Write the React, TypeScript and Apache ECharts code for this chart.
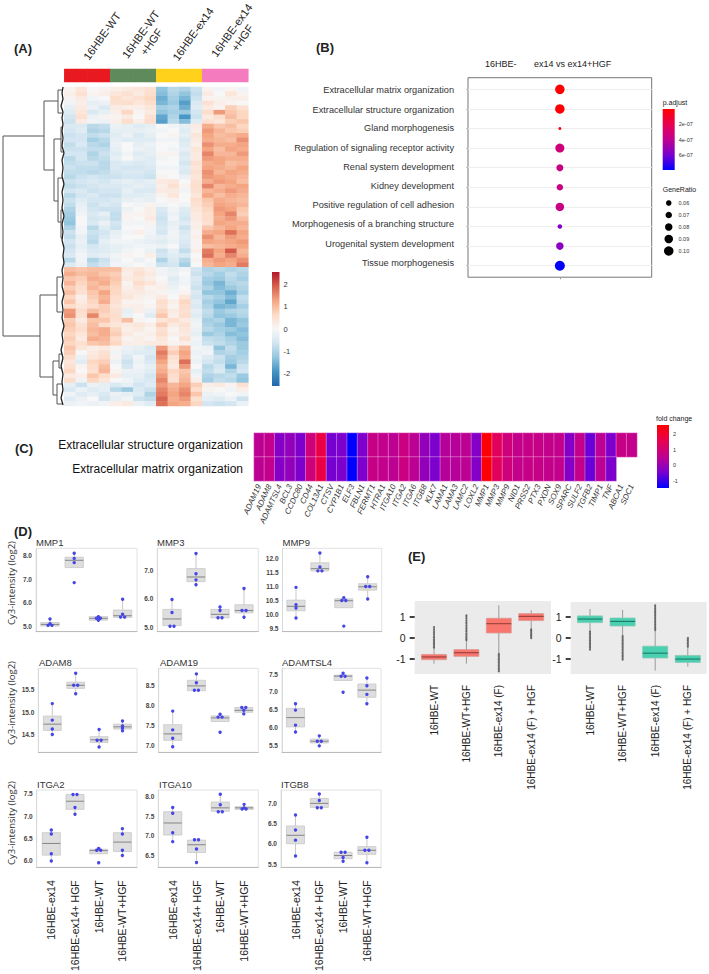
import React, { useEffect, useRef } from 'react';
import * as echarts from 'echarts';

const FONT = '"Liberation Sans"';

// ---------- Panel A ----------
const HEAT_GROUPS = ['16HBE-WT', '16HBE-WT\n+HGF', '16HBE-ex14', '16HBE-ex14\n+HGF'];
const HEAT_SAMPLE_GROUP = [0, 0, 0, 0, 1, 1, 1, 1, 2, 2, 2, 2, 3, 3, 3, 3];
const HEAT_TICKS = [2, 1, 0, -1, -2];
// values x10, one row per gene block
const HEAT_ROWS = [
  [1, 4, 0, 1, 2, 3, 4, 5, -13, -9, -10, -7, 1, -1, 1, -1],
  [2, 5, 1, 2, 4, 5, 3, 6, -14, -10, -13, -8, 3, 0, 4, 1],
  [1, 3, -1, 0, 6, 4, 5, 7, -16, -11, -15, -7, 1, 1, 2, 2],
  [-1, 2, -3, -2, 5, 6, 4, 6, -15, -12, -18, -5, 5, 2, 1, 0],
  [-3, 3, -2, -5, 3, 2, 2, 4, -11, -10, -16, -4, 3, 1, 8, 5],
  [-4, 4, -5, -3, 2, 7, 1, 3, -13, -11, -12, -6, 6, 14, 9, 7],
  [-6, 5, -2, 1, 1, 3, 0, 5, -17, -10, -19, -7, 3, 6, 10, 7],
  [-7, 3, -1, -2, 2, 6, 2, 6, -18, -9, -14, -4, 5, 4, 8, 9],
  [-5, -5, -9, -8, -2, -3, -4, -3, 0, -1, -3, 3, 12, 9, 10, 7],
  [-6, -4, -10, -9, -3, -3, -3, -2, -1, 0, -4, 2, 14, 11, 9, 8],
  [-7, -6, -8, -7, -4, -2, -5, -3, 0, 1, -3, 4, 13, 10, 11, 12],
  [-6, -6, -11, -9, -3, -4, -4, -4, -1, -1, -5, 3, 12, 11, 10, 15],
  [-8, -5, -9, -10, -2, 0, -3, -2, 0, 0, -4, 2, 15, 12, 12, 13],
  [-7, -7, -8, -8, -3, 0, -2, -3, 0, -1, -3, 4, 13, 10, 13, 12],
  [-6, -6, -10, -7, -4, -1, -4, -3, 1, 1, -5, 3, 16, 11, 11, 14],
  [-9, -6, -9, -8, -3, 0, -3, -4, -1, 0, -4, 3, 14, 13, 12, 12],
  [-8, -7, -7, -9, -5, -4, -5, -4, 0, 0, -6, 5, 12, 13, 10, 11],
  [-7, -8, -8, -9, -5, -6, -6, -5, -1, -1, -4, 4, 13, 12, 11, 13],
  [-8, -8, -9, -8, -6, -5, -5, -6, 0, 0, -5, 5, 15, 11, 13, 12],
  [-9, -7, -6, -7, -7, -6, -6, -7, 1, 0, -2, 4, 14, 13, 12, 11],
  [-7, -6, -5, -6, -4, -3, -4, -3, 3, 4, 0, 5, 12, 14, 13, 10],
  [-8, -7, -6, -5, -5, -4, -3, -4, 2, 5, 1, 6, 16, 11, 12, 13],
  [-6, -5, -7, -6, -6, -3, -5, -5, 3, 3, -1, 5, 11, 12, 14, 12],
  [-9, -6, -5, -7, -7, -4, -4, -3, 1, 4, 0, 4, 13, 10, 12, 11],
  [-7, -4, -6, -6, -5, -3, -2, -3, 0, 1, 0, 6, 9, 12, 11, 10],
  [-8, -3, -7, -5, -6, 0, -1, 1, -1, 0, -1, 5, 8, 13, 12, 11],
  [-10, -2, -6, -7, -7, -2, 0, 2, -5, -1, -4, 4, 7, 14, 13, 9],
  [-11, -1, -5, -3, -8, 1, 1, 2, -6, -2, -5, 3, 6, 13, 16, 8],
  [-12, 0, -6, -5, -8, 1, 0, 3, -7, -1, -6, 3, 6, 12, 14, 10],
  [-13, 0, -5, -2, -6, -1, -1, 1, -6, -3, -4, 2, 5, 13, 12, 12],
  [-10, -1, -9, -4, -7, 0, 0, -1, -5, -2, -7, 2, 9, 11, 13, 11],
  [-7, -1, -7, -6, -3, -1, 2, -1, -6, -1, -5, 1, 12, 13, 18, 13],
  [-8, -3, -8, -5, -2, 0, 0, -2, -3, -1, -4, 2, 15, 11, 14, 12],
  [-6, -2, -9, -3, -1, -1, -2, -3, -4, -2, -5, 1, 13, 12, 13, 14],
  [-7, -3, -6, -4, -3, -2, -1, -1, -2, 0, -6, 1, 10, 11, 12, 13],
  [-6, -2, -5, -4, -3, -1, 0, -2, -7, -3, -8, 2, 17, 13, 20, 11],
  [-5, -1, -4, -3, -1, 1, 0, 2, -6, -4, -5, 0, 18, 12, 16, 12],
  [-9, -1, -10, -7, -2, 0, -2, 0, -10, -5, -9, 1, 12, 14, 13, 15],
  [-5, -2, -8, -6, -1, -1, 0, -1, -7, -6, -11, 0, 11, 13, 12, 17],
  [10, 9, 10, 10, 10, 3, 4, 2, -1, -3, -1, -6, -10, -9, -10, -9],
  [12, 10, 11, 9, 8, 2, 5, 3, -1, -2, 0, -7, -9, -11, -8, -10],
  [9, 8, 12, 11, 9, 3, 4, 2, 0, -4, -1, -5, -11, -12, -9, -11],
  [11, 7, 10, 12, 8, 1, 6, 4, 1, -3, -1, -6, -12, -15, -10, -9],
  [8, 6, 11, 9, 7, 2, 4, 1, 2, -2, 0, -7, -10, -14, -12, -10],
  [10, 5, 9, 13, 7, 3, 3, 2, 1, -1, 1, -5, -13, -13, -16, -11],
  [7, 2, 8, 11, 6, 4, 2, 1, 3, 0, 4, -6, -9, -11, -14, -8],
  [9, 3, 7, 12, 5, 1, 1, 0, 6, 2, 7, -4, -11, -13, -17, -9],
  [6, 4, 6, 8, 4, 2, 2, 1, 5, 1, 6, -5, -10, -15, -14, -11],
  [14, 6, 10, 8, 5, -3, 2, -2, 7, 3, 5, -3, -8, -12, -10, -9],
  [15, 5, 16, 7, 6, -2, 0, -4, 9, 2, 6, -4, -9, -13, -12, -10],
  [8, 3, 9, 9, 5, 10, 1, 0, 4, 6, 3, -2, -11, -10, -15, -13],
  [9, 5, 10, 6, 4, 3, 4, 2, 8, 3, 5, -1, -10, -12, -15, -12],
  [8, 6, 11, 12, 7, 2, 3, 1, 5, 1, 4, -2, -9, -11, -12, -14],
  [7, 4, 10, 12, 8, 3, 1, 2, 6, 2, 3, -3, -12, -10, -14, -13],
  [8, 3, 12, 11, 6, 1, 2, 1, 4, 0, 5, -1, -8, -9, -11, -14],
  [7, 5, 9, 10, 7, 2, 2, 3, 3, 1, 2, -2, -7, -8, -10, -12],
  [9, 4, 2, 3, 1, -2, -3, -5, 14, 6, 11, -1, -2, -13, -8, -12],
  [8, 0, 3, 5, -1, -3, -4, -4, 17, 8, 13, -2, -1, -10, -9, -11],
  [6, -2, 4, 6, 1, -5, -1, -6, 15, 5, 12, -1, -4, -7, -11, -10],
  [4, -4, 7, 8, -2, -7, -2, -5, 13, 4, 18, -2, -6, -8, -12, -9],
  [5, 1, 6, 10, 0, -6, -1, -3, 11, 3, 14, 0, -9, -6, -15, -7],
  [7, 0, 5, 11, 1, -2, -2, -4, 12, 7, 9, -3, -8, -5, -10, -6],
  [3, 2, 9, 6, 3, -3, -3, -6, 14, 6, 10, -1, -10, -9, -8, -12],
  [6, -1, 7, 4, 0, -1, -4, -5, 16, 5, 11, 2, -11, -8, -9, -13],
  [-3, -7, -2, -3, -5, -3, -6, -4, 14, 11, 13, 8, 2, 3, 1, 5],
  [-5, -2, -4, -3, -9, -12, -5, -7, 16, 12, 15, 6, 1, 0, -1, 2],
  [-1, -4, -3, -5, -2, -3, -4, -10, 17, 13, 16, 9, -2, -1, 0, -1],
  [-4, -2, 0, -6, -3, -1, -7, -8, 19, 12, 14, 5, -3, -4, -2, -7],
  [-2, -1, -2, -1, 2, 3, -2, -4, 18, 13, 12, 7, -6, -7, -6, -2],
];

// ---------- Panel B ----------
const GO_TERMS = [
  'Extracellular matrix organization', 'Extracellular structure organization', 'Gland morphogenesis',
  'Regulation of signaling receptor activity', 'Renal system development', 'Kidney development',
  'Positive regulation of cell adhesion', 'Morphogenesis of a branching structure',
  'Urogenital system development', 'Tissue morphogenesis',
];
const GO_GENE_RATIO = [0.1, 0.1, 0.035, 0.095, 0.075, 0.07, 0.09, 0.05, 0.08, 0.105];
const GO_P_ADJUST = [5e-9, 8e-9, 4e-8, 3.3e-7, 3.5e-7, 3.5e-7, 3.6e-7, 5.7e-7, 5.5e-7, 7.9e-7];
const GO_RATIO_LEGEND = ['0.06', '0.07', '0.08', '0.09', '0.10'];
const GO_P_TICKS = [2e-7, 4e-7, 6e-7];

// ---------- Panel C ----------
const FC_GENES = ['ADAM19', 'ADAM8', 'ADAMTSL4', 'BCL3', 'CCDC80', 'CD44', 'COL13A1', 'CTSV', 'CYP1B1', 'ELF3', 'FBLN1', 'FERMT1', 'HTRA1', 'ITGA10', 'ITGA2', 'ITGA6', 'ITGB8', 'KLK7', 'LAMA1', 'LAMA3', 'LAMC2', 'LOXL2', 'MMP1', 'MMP3', 'MMP9', 'NID1', 'PRSS2', 'PTX3', 'PXDN', 'SOX9', 'SPARC', 'SULF2', 'TGFB2', 'TIMP1', 'TNF', 'ABCA1', 'SDC1'];
const FC_TERMS = ['Extracellular structure organization', 'Extracellular matrix organization'];
const FC_VALUES = [0.5, 0.6, -0.3, -0.1, -0.4, 0.9, 1.7, -0.5, -0.4, -1.5, -0.4, 0.7, 0.6, 0.5, 0.8, 0.5, -0.1, -0.4, 0.4, 0.4, 0.5, -0.3, 2.5, 1.4, 0.9, 0.6, 0.7, 0.7, 0.6, 0.6, -0.3, 0.6, -0.6, 0.5, -0.4, 0.7, 0.6];
const FC_TICKS = [2, 1, 0, -1];
const FC_ROW2_COUNT = 35;

// ---------- Panel D ----------
const D_SAMPLES = ['16HBE-ex14', '16HBE-ex14+ HGF', '16HBE-WT', '16HBE-WT+HGF'];
const MMP1_BOX = [[5.0, 5.0, 5.07, 5.15, 5.3], [7.49, 7.49, 7.8, 7.93, 8.1], [5.25, 5.25, 5.33, 5.4, 5.4], [5.37, 5.37, 5.44, 5.68, 6.14]];
const MMP1_PTS = [[5.3, 5.1, 5.03, 5.03], [8.1, 7.88, 7.7, 6.85], [5.4, 5.33, 5.33, 5.25], [6.14, 5.5, 5.38, 5.38]];
const MMP3_BOX = [[5.06, 5.08, 5.31, 5.64, 5.98], [6.49, 6.6, 6.76, 7.05, 7.57], [5.35, 5.35, 5.47, 5.64, 5.72], [5.37, 5.52, 5.6, 5.8, 6.36]];
const MMP3_PTS = [[5.98, 5.53, 5.06, 5.06], [7.57, 6.87, 6.66, 6.49], [5.72, 5.6, 5.35, 5.35], [6.36, 5.6, 5.6, 5.37]];
const MMP9_BOX = [[9.87, 10.13, 10.29, 10.51, 10.97], [11.56, 11.56, 11.64, 11.85, 12.2], [10.24, 10.24, 10.49, 10.56, 10.6], [10.55, 10.87, 10.99, 11.1, 11.35]];
const MMP9_PTS = [[10.97, 10.35, 10.23, 9.87], [12.2, 11.7, 11.56, 11.56], [10.6, 10.5, 10.5, 9.58], [11.35, 11.0, 11.0, 10.55]];
const ADAM8_BOX = [[14.5, 14.59, 14.73, 14.91, 15.19], [15.41, 15.53, 15.6, 15.67, 15.87], [14.22, 14.32, 14.38, 14.45, 14.61], [14.58, 14.62, 14.67, 14.73, 14.8]];
const ADAM8_PTS = [[15.19, 14.82, 14.62, 14.5], [15.87, 15.6, 15.6, 15.41], [14.61, 14.37, 14.37, 14.22], [14.8, 14.69, 14.64, 14.58]];
const ADAM19_BOX = [[6.97, 7.13, 7.29, 7.52, 7.86], [8.37, 8.37, 8.49, 8.63, 8.79], [7.6, 7.6, 7.69, 7.74, 7.78], [7.79, 7.83, 7.88, 7.95, 7.95]];
const ADAM19_PTS = [[7.86, 7.39, 7.18, 6.97], [8.79, 8.57, 8.38, 8.38], [7.78, 7.71, 7.71, 7.33], [7.95, 7.95, 7.88, 7.79]];
const ADAMTSL4_BOX = [[5.88, 6.02, 6.28, 6.54, 6.67], [5.49, 5.57, 5.62, 5.68, 5.77], [7.32, 7.32, 7.44, 7.47, 7.52], [6.67, 6.85, 7.05, 7.22, 7.39]];
const ADAMTSL4_PTS = [[6.67, 6.49, 6.07, 5.88], [5.77, 5.62, 5.62, 5.49], [7.52, 7.44, 7.44, 6.99], [7.39, 7.17, 6.93, 6.67]];
const ITGA2_BOX = [[6.0, 6.13, 6.39, 6.63, 6.69], [7.04, 7.15, 7.33, 7.48, 7.48], [6.16, 6.16, 6.23, 6.26, 6.28], [6.12, 6.21, 6.42, 6.63, 6.72]];
const ITGA2_PTS = [[6.69, 6.6, 6.16, 6.0], [7.48, 7.48, 7.19, 7.04], [6.28, 6.24, 6.24, 5.96], [6.72, 6.6, 6.24, 6.12]];
const ITGA10_BOX = [[6.85, 7.02, 7.33, 7.62, 7.73], [6.31, 6.57, 6.77, 6.89, 6.9], [7.62, 7.63, 7.72, 7.87, 8.07], [7.68, 7.68, 7.72, 7.75, 7.81]];
const ITGA10_PTS = [[7.73, 7.58, 7.08, 6.85], [6.9, 6.9, 6.66, 6.31], [8.07, 7.8, 7.62, 7.62], [7.81, 7.72, 7.69, 7.69]];
const ITGB8_BOX = [[5.7, 6.0, 6.21, 6.44, 6.71], [6.89, 6.9, 7.0, 7.12, 7.23], [5.57, 5.63, 5.71, 5.79, 5.79], [5.53, 5.74, 5.84, 5.93, 6.16]];
const ITGB8_PTS = [[6.71, 6.34, 6.09, 5.7], [7.23, 7.07, 6.89, 6.89], [5.79, 5.79, 5.66, 5.57], [6.16, 5.84, 5.84, 5.53]];

// ---------- Panel E ----------
const E_SAMPLES = ['16HBE-WT', '16HBE-WT+HGF', '16HBE-ex14 (F)', '16HBE-ex14 (F) + HGF'];
const E_UP_BOX = [[-1.22, -1.03, -0.9, -0.78, -0.47], [-1.22, -0.87, -0.7, -0.55, -0.1], [-0.75, 0.24, 0.68, 0.94, 1.56], [0.41, 0.83, 1.03, 1.16, 1.32]];
const E_UP_OUT = [
  [0.52, 0.42, 0.33, 0.24, 0.16, 0.08, 0.01, -0.06, -0.13, -0.2, -0.27, -0.33, -0.4, -0.46],
  [1.08, 1.0, 0.92, 0.84, 0.76, 0.68, 0.6, 0.52, 0.44, 0.37, 0.3, 0.22, 0.15, 0.08, 0.01, -0.05, -0.1],
  [-0.76, -0.83, -0.9, -0.97, -1.04, -1.1, -1.17, -1.24, -1.31, -1.38, -1.45, -1.52, -1.58],
  [0.41, 0.35, 0.29, 0.23, 0.17, 0.11, 0.05, 0],
];
const E_DOWN_BOX = [[0.3, 0.73, 0.9, 1.05, 1.38], [0.09, 0.57, 0.79, 0.95, 1.33], [-1.55, -0.95, -0.72, -0.39, 0.38], [-1.36, -1.16, -1.0, -0.83, -0.41]];
const E_DOWN_OUT = [
  [0.3, 0.23, 0.16, 0.09, 0.02, -0.05, -0.12, -0.19, -0.26, -0.33, -0.4, -0.47, -0.55],
  [0.09, 0.02, -0.05, -0.12, -0.19, -0.26, -0.33, -0.4, -0.47, -0.54, -0.61, -0.68, -0.75, -0.82, -0.89, -0.96, -1.03],
  [1.55, 1.48, 1.41, 1.34, 1.27, 1.2, 1.13, 1.06, 0.99, 0.92, 0.85, 0.78, 0.71, 0.64, 0.57, 0.5, 0.43, 0.38],
  [-0.41, -0.34, -0.27, -0.2, -0.13, -0.06, 0],
];
const E_TICKS = [1, 0, -1];

// Dendrogram links, in heights and row offsets of the overlay scale
const DENDRO_LINKS = [
  [3, 136, 3, 336], [3, 136, 44, 136], [3, 336, 40, 336],
  [44, 101, 44, 170], [44, 101, 58, 101], [44, 170, 54, 170],
  [58, 90, 58, 113], [58, 90, 62, 90], [58, 113, 62, 113],
  [54, 139, 54, 201], [54, 139, 61, 139], [54, 201, 58, 201],
  [61, 127, 61, 152], [61, 127, 63, 127], [61, 152, 63, 152],
  [58, 178, 58, 222], [58, 178, 62, 178], [58, 222, 61, 222],
  [61, 210, 61, 238], [61, 210, 63, 210], [61, 238, 63, 238],
  [40, 295, 40, 377], [40, 295, 57, 295], [40, 377, 53, 377],
  [57, 277, 57, 312], [57, 277, 62, 277], [57, 312, 62, 312],
  [53, 361, 53, 395], [53, 361, 59, 361], [53, 395, 57, 395],
  [59, 354, 59, 368], [59, 354, 62, 354], [59, 368, 62, 368],
  [57, 384, 57, 404], [57, 384, 62, 384], [57, 404, 62, 404],
];
const DENDRO_LEAVES = [
  [63, 87, 62, 93], [62, 93, 63, 99], [63, 99, 61, 106], [61, 106, 63, 112], [63, 112, 62, 118], [62, 118, 63, 124],
  [63, 124, 62, 131], [62, 131, 63, 138], [63, 138, 62, 146], [62, 146, 64, 153], [64, 153, 62, 160], [62, 160, 63, 168],
  [63, 168, 62, 176], [62, 176, 64, 184], [64, 184, 62, 192], [62, 192, 63, 200], [63, 200, 62, 208], [62, 208, 64, 216],
  [64, 216, 62, 224], [62, 224, 63, 232], [63, 232, 62, 240], [62, 240, 64, 248], [64, 248, 63, 256], [63, 256, 64, 263],
  [64, 263, 62, 270], [62, 270, 63, 278], [63, 278, 62, 286], [62, 286, 64, 294], [64, 294, 62, 302], [62, 302, 63, 310],
  [63, 310, 62, 318], [62, 318, 64, 326], [64, 326, 62, 334], [62, 334, 63, 342], [63, 342, 61, 350], [61, 350, 63, 358],
  [63, 358, 61, 366], [61, 366, 63, 374], [63, 374, 62, 382], [62, 382, 63, 390], [63, 390, 61, 398], [61, 398, 63, 405],
];

const HEAT_COLORS = ['#2166ac', '#4393c3', '#92c5de', '#d1e5f0', '#f7f7f7', '#fddbc7', '#f4a582', '#d6604d', '#b2182b'];
const MAGMA_COLORS = ['#0000ff', '#7a00d0', '#c0008f', '#e80050', '#ff0000'];
const ANNOT_COLORS = ['#e8191f', '#5f8a5c', '#ffd11a', '#f57bbf'];

const stops = (colors: string[]) => colors.map((color, i) => ({ offset: i / (colors.length - 1), color }));

function buildOption() {
  const grid: any[] = [], xAxis: any[] = [], yAxis: any[] = [], series: any[] = [], visualMap: any[] = [], graphic: any[] = [];
  const add = (g: any, x: any, y: any) => {
    grid.push(g);
    xAxis.push({ ...x, axisLine: { ...(x.axisLine || {}), onZero: false }, gridIndex: grid.length - 1 });
    yAxis.push({ ...y, axisLine: { ...(y.axisLine || {}), onZero: false }, gridIndex: grid.length - 1 });
    return grid.length - 1;
  };
  const text = (t: string, x: number, y: number, font: string, extra: any = {}, el: any = {}) => {
    graphic.push({
      type: 'text', x, y, z: 10, ...el,
      style: { text: t, font, fill: '#222', textAlign: 'left', textVerticalAlign: 'middle', align: 'left', verticalAlign: 'middle', ...extra },
    });
  };
  const hide = (o: any = {}) => ({ show: false, ...o });

  const colorbar = (left: number, top: number, w: number, h: number, colors: string[], min: number, max: number, ticks: number[], fmt: (v: number) => string, fontSize: number, inner: boolean) => {
    const idx = add(
      { left, top, width: w, height: h, show: false },
      hide({ type: 'value', min: 0, max: 1 }),
      {
        type: 'value', position: 'right', min, max,
        axisLine: { show: false },
        splitLine: { show: false },
        axisTick: inner ? { show: true, inside: true, length: 2, customValues: ticks, lineStyle: { color: '#fff', width: 0.6 } } : { show: false },
        axisLabel: { customValues: ticks, formatter: fmt, fontSize, color: '#333', margin: 4, fontFamily: FONT },
      },
    );
    series.push({
      type: 'custom', xAxisIndex: idx, yAxisIndex: idx, data: [[0, 0]], silent: true, z: 1,
      renderItem: (params: any) => {
        const c = params.coordSys;
        return { type: 'rect', shape: { x: c.x, y: c.y, width: c.width, height: c.height }, style: { fill: new echarts.graphic.LinearGradient(0, 0, 0, 1, stops(colors)) } };
      },
    });
  };

  // ---- Panel A ----
  text('(A)', 14, 48, `bold 13px ${FONT}`);
  const headerPos = [[102, 36], [146, 38], [193, 34], [237, 34]];
  HEAT_GROUPS.forEach((g, i) => text(g, headerPos[i][0], headerPos[i][1], `11px ${FONT}`, { textAlign: 'center', align: 'center', lineHeight: 13 }, { rotation: 0.95 }));

  const annot = add({ left: 64.3, top: 69, width: 184, height: 13 },
    hide({ type: 'category', data: HEAT_SAMPLE_GROUP.map((_, i) => i) }),
    hide({ type: 'category', data: [0] }));
  series.push({
    type: 'heatmap', xAxisIndex: annot, yAxisIndex: annot, progressive: 0,
    data: HEAT_SAMPLE_GROUP.map((g, i) => [i, 0, g]),
    itemStyle: { borderWidth: 0 },
  });
  visualMap.push({ type: 'piecewise', show: false, seriesIndex: series.length - 1, dimension: 2, pieces: ANNOT_COLORS.map((color, i) => ({ value: i, color })) });

  const heat = add({ left: 64.3, top: 87, width: 184, height: 319 },
    hide({ type: 'category', data: HEAT_SAMPLE_GROUP.map((_, i) => i) }),
    hide({ type: 'category', inverse: true, data: HEAT_ROWS.map((_, i) => i) }));
  series.push({
    type: 'heatmap', xAxisIndex: heat, yAxisIndex: heat, progressive: 0,
    data: HEAT_ROWS.flatMap((row, r) => row.map((v, c) => [c, r, v / 10])),
    itemStyle: { borderWidth: 0 },
  });
  visualMap.push({ type: 'continuous', show: false, seriesIndex: series.length - 1, dimension: 2, min: -2.6, max: 2.6, inRange: { color: HEAT_COLORS } });

  const dendro = add({ left: 0, top: 0, width: 64.3, height: 974 },
    hide({ type: 'value', min: 0, max: 64.3 }),
    hide({ type: 'value', min: 0, max: 974, inverse: true }));
  const linkSeries = (data: number[][], width: number, color: string) => series.push({
    type: 'custom', xAxisIndex: dendro, yAxisIndex: dendro, silent: true, clip: false,
    encode: { x: [0, 2], y: [1, 3] }, data,
    renderItem: (_: any, api: any) => {
      const a = api.coord([api.value(0), api.value(1)]);
      const b = api.coord([api.value(2), api.value(3)]);
      return { type: 'line', shape: { x1: a[0], y1: a[1], x2: b[0], y2: b[1] }, style: { stroke: color, lineWidth: width, fill: null } };
    },
  });
  linkSeries(DENDRO_LINKS, 1, '#555');
  linkSeries(DENDRO_LEAVES, 1.3, '#222');

  colorbar(272, 272, 7.5, 114, [...HEAT_COLORS].reverse(), -2.59, 2.59, HEAT_TICKS, (v) => String(v), 7.5, false);

  // ---- Panel B ----
  text('(B)', 316, 47, `bold 13px ${FONT}`);
  text('16HBE-', 485, 63.5, `9px ${FONT}`);
  text('ex14 vs ex14+HGF', 534, 63.5, `9px ${FONT}`);
  const termY = [90, 110, 128, 148, 167, 186, 205, 224, 243.5, 262.5];
  GO_TERMS.forEach((t, i) => text(t, 454, termY[i], `9.2px ${FONT}`, { textAlign: 'right', align: 'right', fill: '#333' }));
  const dot = add(
    { left: 468, top: 77.7, width: 183.7, height: 199.5, show: true, borderColor: '#777', borderWidth: 1, backgroundColor: '#fff' },
    { type: 'value', min: -1, max: 1, axisLine: { show: false }, axisLabel: { show: false }, splitLine: { show: false }, axisTick: { show: true, customValues: [0], length: 2, lineStyle: { color: '#999' } } },
    {
      type: 'value', inverse: true, min: -0.592, max: 9.586,
      axisLine: { show: false }, axisLabel: { show: false },
      axisTick: { show: true, customValues: GO_TERMS.map((_, i) => i), length: 2, lineStyle: { color: '#aaa', width: 0.6 } },
      splitLine: { show: true, lineStyle: { color: '#eee', width: 1 } },
    });
  const dataSize = (r: number) => 5.5 + (r - 0.06) * 100;
  series.push({
    type: 'scatter', xAxisIndex: dot, yAxisIndex: dot, z: 3,
    data: GO_TERMS.map((_, i) => [0, i, GO_GENE_RATIO[i], GO_P_ADJUST[i]]),
    symbolSize: (d: number[]) => dataSize(d[2]),
    itemStyle: { opacity: 1 },
  });
  visualMap.push({ type: 'continuous', show: false, seriesIndex: series.length - 1, dimension: 3, min: 0, max: 7.9e-7, inRange: { color: [...MAGMA_COLORS].reverse() } });
  text('p.adjust', 662.7, 102, `7px ${FONT}`);
  colorbar(662.7, 109, 12, 61, [...MAGMA_COLORS].reverse(), 0, 7.9e-7, GO_P_TICKS, (v) => `${Math.round(v * 1e7)}e-07`, 5.5, true);
  // the p.adjust bar reads from small values at the top
  yAxis[yAxis.length - 1].inverse = true;
  text('GeneRatio', 662.7, 189, `7px ${FONT}`);
  const leg = add({ left: 663, top: 197, width: 11.5, height: 60 },
    hide({ type: 'value', min: -1, max: 1 }),
    {
      type: 'category', inverse: true, position: 'right', data: GO_RATIO_LEGEND,
      axisLine: { show: false }, axisTick: { show: false },
      axisLabel: { fontSize: 5.5, color: '#333', margin: 4, fontFamily: FONT },
    });
  series.push({
    type: 'scatter', xAxisIndex: leg, yAxisIndex: leg,
    data: GO_RATIO_LEGEND.map((v, i) => [0, i, Number(v)]),
    symbolSize: (d: number[]) => dataSize(d[2]),
    itemStyle: { color: '#000', opacity: 1 },
  });

  // ---- Panel C ----
  text('(C)', 15, 448, `bold 13px ${FONT}`);
  const fc = add({ left: 254, top: 433, width: 383, height: 48 },
    {
      type: 'category', data: FC_GENES, axisLine: { show: false }, axisTick: { show: false },
      axisLabel: { interval: 0, rotate: 65, fontSize: 8, margin: 4, color: '#333', fontFamily: FONT, fontStyle: 'italic' },
    },
    {
      type: 'category', inverse: true, data: FC_TERMS, axisLine: { show: false }, axisTick: { show: false },
      axisLabel: { fontSize: 12, margin: 11, color: '#111', fontFamily: FONT, padding: [3, 0, 0, 0] },
    });
  series.push({
    type: 'heatmap', xAxisIndex: fc, yAxisIndex: fc, progressive: 0,
    data: [
      ...FC_VALUES.map((v, i) => [i, 0, v]),
      ...FC_VALUES.slice(0, FC_ROW2_COUNT).map((v, i) => [i, 1, v]),
    ],
    itemStyle: { borderWidth: 0.6, borderColor: 'rgba(255,215,245,0.6)' },
  });
  visualMap.push({ type: 'continuous', show: false, seriesIndex: series.length - 1, dimension: 2, min: -1.47, max: 2.58, inRange: { color: MAGMA_COLORS } });
  text('fold change', 656, 418, `7px ${FONT}`);
  colorbar(657, 425, 12, 63, [...MAGMA_COLORS].reverse(), -1.47, 2.58, FC_TICKS, (v) => String(v), 5.5, true);

  // ---- Panel D ----
  text('(D)', 14, 531, `bold 13px ${FONT}`);
  const boxRender = (halfW: number, fill: string, border: string, med: string, whisker: string, lw: number) => (_: any, api: any) => {
    const x = api.value(0);
    const lo = api.coord([x, api.value(1)]);
    const q1 = api.coord([x, api.value(2)]);
    const m = api.coord([x, api.value(3)]);
    const q3 = api.coord([x, api.value(4)]);
    const hi = api.coord([x, api.value(5)]);
    const l = api.coord([x - halfW, api.value(3)])[0];
    const r = api.coord([x + halfW, api.value(3)])[0];
    const ln = (x1: number, y1: number, x2: number, y2: number, stroke: string, lineWidth: number) => ({ type: 'line', shape: { x1, y1, x2, y2 }, style: { stroke, lineWidth, fill: null } });
    return {
      type: 'group',
      children: [
        ln(lo[0], lo[1], lo[0], hi[1], whisker, 1),
        { type: 'rect', shape: { x: l, y: q3[1], width: r - l, height: q1[1] - q3[1] }, style: { fill, stroke: border, lineWidth: 0.8 } },
        ln(l, m[1], r, m[1], med, lw),
      ],
    };
  };
  const addBoxes = (idx: number, boxes: number[][], render: any) => series.push({
    type: 'custom', xAxisIndex: idx, yAxisIndex: idx, silent: true, z: 2, clip: false,
    encode: { x: 0, y: [1, 2, 3, 4, 5] },
    data: boxes.map((b, i) => [i, ...b]), renderItem: render,
  });
  const pointsData = (pts: number[][]) => pts.flatMap((vals, g) => vals.map((v, k) => {
    const same = vals.filter((o) => o === v).length;
    const nth = vals.slice(0, k).filter((o) => o === v).length;
    return { value: [g, v], symbolOffset: [(nth - (same - 1) / 2) * 4, 0] };
  }));

  const panels: any[] = [
    { t: 'MMP1', box: MMP1_BOX, pts: MMP1_PTS, f: [36, 137, 548.3, 631.7], c0: 50, s: 24.2, y: [4.76, 8.31], ticks: [5, 6, 7, 8], title: 36 },
    { t: 'MMP3', box: MMP3_BOX, pts: MMP3_PTS, f: [157.3, 258.3, 548.3, 631.7], c0: 172, s: 24, y: [4.87, 7.75], ticks: [5, 6, 7], title: 157 },
    { t: 'MMP9', box: MMP9_BOX, pts: MMP9_PTS, f: [282.5, 381.7, 548.3, 631.7], c0: 296, s: 23.9, y: [9.38, 12.37], ticks: [9.5, 10, 10.5, 11, 11.5, 12], title: 282.5 },
    { t: 'ADAM8', box: ADAM8_BOX, pts: ADAM8_PTS, f: [38.3, 137, 668.3, 752.3], c0: 52.3, s: 23.4, y: [14.1, 15.98], ticks: [14.5, 15, 15.5], title: 39 },
    { t: 'ADAM19', box: ADAM19_BOX, pts: ADAM19_PTS, f: [158.7, 258.3, 668.3, 752.3], c0: 172.7, s: 23.7, y: [6.83, 8.93], ticks: [7, 7.5, 8, 8.5], title: 160 },
    { t: 'ADAMTSL4', box: ADAMTSL4_BOX, pts: ADAMTSL4_PTS, f: [282, 381, 668.3, 752.3], c0: 295.5, s: 23.8, y: [5.31, 7.66], ticks: [5.5, 6, 6.5, 7, 7.5], title: 282 },
    { t: 'ITGA2', box: ITGA2_BOX, pts: ITGA2_PTS, f: [36.7, 137, 790, 872.3], c0: 51.3, s: 23.7, y: [5.86, 7.58], ticks: [6, 6.5, 7, 7.5], title: 37, labels: true },
    { t: 'ITGA10', box: ITGA10_BOX, pts: ITGA10_PTS, f: [158.3, 258.3, 790, 872.3], c0: 172.7, s: 23.8, y: [6.19, 8.18], ticks: [6.5, 7, 7.5, 8], title: 159, labels: true },
    { t: 'ITGB8', box: ITGB8_BOX, pts: ITGB8_PTS, f: [281, 381, 790, 872.3], c0: 295.5, s: 23.8, y: [5.42, 7.33], ticks: [5.5, 6, 6.5, 7], title: 281, labels: true },
  ];
  panels.forEach((p) => {
    const [x0, x1, y0, y1] = p.f;
    const idx = add(
      { left: x0, top: y0, width: x1 - x0, height: y1 - y0, show: true, borderColor: '#e2e2e2', borderWidth: 1, backgroundColor: '#fff' },
      {
        type: 'value', min: (x0 - p.c0) / p.s, max: (x1 - p.c0) / p.s,
        axisLine: { show: true, lineStyle: { color: '#bbb', width: 1 } }, axisTick: { show: false }, splitLine: { show: false },
        axisLabel: p.labels
          ? { show: true, customValues: [0, 1, 2, 3], formatter: (v: number) => D_SAMPLES[v], rotate: 90, fontSize: 10.5, margin: 13, color: '#222', fontFamily: FONT }
          : { show: false },
      },
      {
        type: 'value', min: p.y[0], max: p.y[1],
        axisLine: { show: true, lineStyle: { color: '#d8d8d8', width: 1 } }, axisTick: { show: false }, splitLine: { show: false },
        axisLabel: { customValues: p.ticks, formatter: (v: number) => v.toFixed(1), fontSize: 6.5, fontWeight: 'bold', margin: 4, color: '#444', fontFamily: FONT },
      });
    addBoxes(idx, p.box, boxRender(0.38, '#dedede', '#c8c8c8', '#858585', '#c9c9c9', 1));
    series.push({
      type: 'scatter', xAxisIndex: idx, yAxisIndex: idx, z: 3, symbolSize: 3.4,
      data: pointsData(p.pts), itemStyle: { color: '#4646e6', opacity: 1 },
    });
    text(p.t, p.title, y0 - 6, `9.5px ${FONT}`, { fill: '#333' });
  });
  [583, 703, 823].forEach((y) => text('Cy3-intensity (log2)', 11, y, `9.5px "Open Sans"`, { textAlign: 'center', align: 'center', fill: '#333' }, { rotation: Math.PI / 2 }));

  // ---- Panel E ----
  text('(E)', 408, 556, `bold 13px ${FONT}`);
  const eChart = (left: number, width: number, c0: number, s: number, top: number, h: number, yr: number[], boxes: number[][], outs: number[][], fill: string, border: string, med: string) => {
    const idx = add(
      { left, top, width, height: h, show: true, backgroundColor: '#ebebeb', borderWidth: 0 },
      {
        type: 'value', min: (left - c0) / s, max: (left + width - c0) / s,
        axisLine: { show: false }, axisTick: { show: false }, splitLine: { show: false },
        axisLabel: { customValues: [0, 1, 2, 3], formatter: (v: number) => E_SAMPLES[v], rotate: 90, fontSize: 10, margin: 11, color: '#222', fontFamily: FONT },
      },
      {
        type: 'value', min: yr[0], max: yr[1],
        axisLine: { show: false }, splitLine: { show: false },
        axisTick: { show: true, customValues: E_TICKS, length: 5, lineStyle: { color: '#111', width: 1.6 } },
        axisLabel: { customValues: E_TICKS, formatter: (v: number) => String(v), fontSize: 10.5, margin: 9, color: '#222', fontFamily: FONT },
      });
    addBoxes(idx, boxes, boxRender(0.385, fill, border, med, '#9a9a9a', 1));
    series.push({
      type: 'scatter', xAxisIndex: idx, yAxisIndex: idx, z: 2, symbolSize: 2,
      data: outs.flatMap((vals, g) => vals.map((v) => [g, v])),
      itemStyle: { color: '#666', opacity: 1 },
    });
  };
  eChart(414.7, 136.3, 434, 32.4, 601, 73, [-1.71, 1.76], E_UP_BOX, E_UP_OUT, '#f8766d', '#d99a94', '#8c3b34');
  eChart(570.7, 136, 590, 32.6, 602, 72, [-1.71, 1.71], E_DOWN_BOX, E_DOWN_OUT, '#48d0b0', '#8ac9b9', '#1a6f60');

  return { animation: false, backgroundColor: '#fff', textStyle: { fontFamily: FONT }, grid, xAxis, yAxis, series, visualMap, graphic };
}

export default function App() {
  const ref = useRef<HTMLDivElement>(null);
  useEffect(() => {
    document.body.style.margin = '0';
    const chart = echarts.init(ref.current!, undefined, { renderer: 'svg' });
    chart.setOption(buildOption() as any);
    return () => chart.dispose();
  }, []);
  return <div ref={ref} style={{ width: 709, height: 974, background: '#fff' }} />;
}
